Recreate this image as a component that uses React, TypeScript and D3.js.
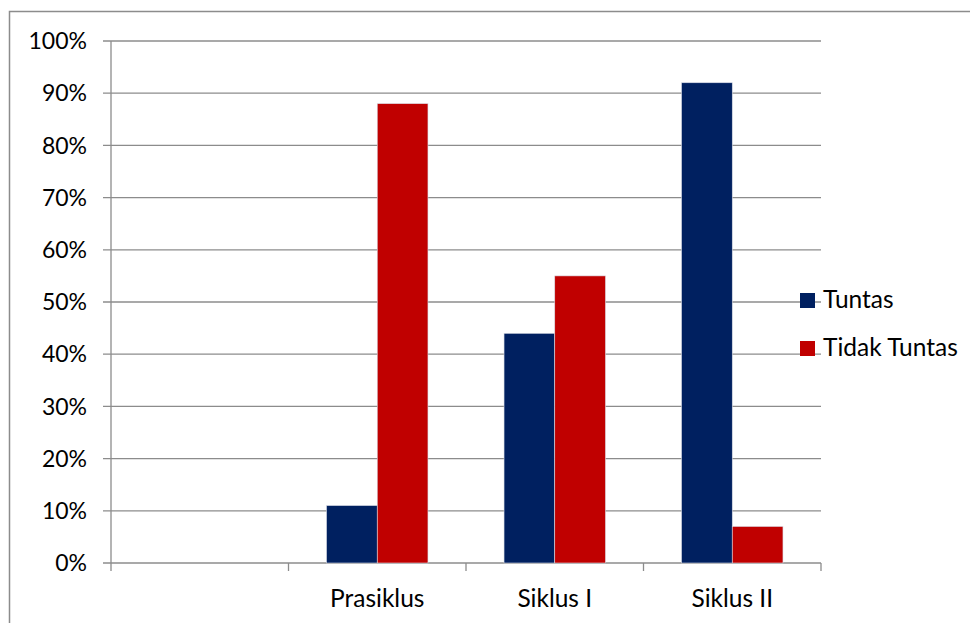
import React from "react";
import * as d3 from "d3";

const categories = ["", "Prasiklus", "Siklus I", "Siklus II"];
const seriesNames = ["Tuntas", "Tidak Tuntas"];
const tuntas = [null, 11, 44, 92];
const tidakTuntas = [null, 88, 55, 7];
const yTicks = [0, 10, 20, 30, 40, 50, 60, 70, 80, 90, 100];
const colors = ["#002060", "#C00000"];

export default function App() {
  const W = 970, H = 623;
  const left = 111, right = 821, top = 41, bottom = 563;
  const x = d3.scaleBand<string>().domain(categories.map((c, i) => String(i))).range([left, right]).paddingInner(0).paddingOuter(0);
  const y = d3.scaleLinear().domain([0, 100]).range([bottom, top]);
  const bw = x.bandwidth() / 3.5;
  const series = [tuntas, tidakTuntas];
  const font = "Lato, 'Open Sans', sans-serif";
  const grid = "#8c8c8c";
  return (
    <svg width={W} height={H} style={{ position: "absolute", left: 0, top: 0, display: "block" }} fontFamily={font}>
      <rect x={0} y={0} width={W} height={H} fill="#fff" />
      <rect x={9.5} y={11.5} width={W + 10} height={H + 10} fill="none" stroke="#8c8c8c" strokeWidth={1.5} />
      {yTicks.map((t) => (
        <g key={t}>
          <line x1={103} x2={right} y1={y(t)} y2={y(t)} stroke={grid} strokeWidth={1.3} />
          <text x={87} y={y(t)} dy="0.36em" textAnchor="end" fontSize={23} fill="#000">{t + "%"}</text>
        </g>
      ))}
      <line x1={left} x2={left} y1={top} y2={bottom + 8} stroke={grid} strokeWidth={1.3} />
      {categories.map((c, i) => (
        <line key={"t" + i} x1={x(String(i))! + x.bandwidth()} x2={x(String(i))! + x.bandwidth()} y1={bottom} y2={bottom + 8} stroke={grid} strokeWidth={1.3} />
      ))}
      {series.map((s, si) =>
        s.map((v, i) =>
          v == null ? null : (
            <rect key={si + "-" + i} x={x(String(i))! + x.bandwidth() / 2 - bw + si * bw} y={y(v)} width={bw} height={bottom - y(v)} fill={colors[si]} stroke="#d9dce6" strokeWidth={0.6} />
          )
        )
      )}
      {categories.map((c, i) => (
        <text key={"c" + i} x={x(String(i))! + x.bandwidth() / 2} y={607} textAnchor="middle" fontSize={24.5} fill="#000">{c}</text>
      ))}
      {seriesNames.map((n, i) => (
        <g key={n}>
          <rect x={800} y={293 + i * 48} width={15} height={15} fill={colors[i]} />
          <text x={823} y={307.5 + i * 48} fontSize={24.5} fill="#000">{n}</text>
        </g>
      ))}
    </svg>
  );
}
